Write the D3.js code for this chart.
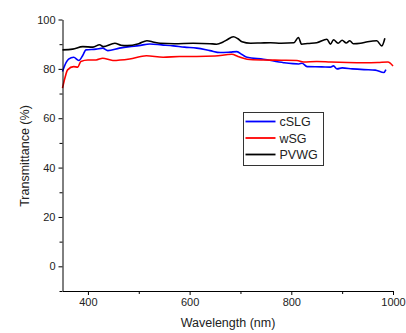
<!DOCTYPE html>
<html lang="en">
<head>
    <meta charset="UTF-8">
    <title>Transmittance</title>
    <script src="https://d3js.org/d3.v7.min.js"></script>
    <style>
        body { margin: 0; background: #fff; }
        text { font-family: "Liberation Sans", Arial, sans-serif; fill: #222; }
    </style>
</head>
<body>

    <svg width="406" height="333"></svg>

</body>

<script>

    // PVWG (black)
    var wlPVWG = [350,370,390,410,423,430,453,465,477,500,516,530,542,570,607,640,653,665,673,686,695,703,720,740,759,780,805,814,820,832,850,870,877,883,892,900,908,915,922,936,950,968,978,984];
    var tPVWG  = [87.7,88.0,89.0,88.8,89.8,89.0,90.4,89.6,89.4,90.2,91.4,90.8,90.4,90.2,90.4,90.2,90.0,90.8,91.7,93.0,92.2,91.0,90.4,90.5,90.6,90.4,90.6,92.7,90.0,90.3,90.6,92.0,90.0,91.8,90.4,91.6,90.5,91.4,90.2,90.4,91.0,91.4,89.3,92.4];

    // cSLG (blue)
    var wlCSLG = [350,357,362,372,382,390,396,416,429,439,462,482,500,522,545,568,590,614,640,660,680,693,703,713,745,785,815,821,831,860,877,883,890,900,920,943,965,982,986];
    var tCSLG  = [78.9,82.5,83.9,84.7,83.4,85.5,87.7,88.0,88.4,87.4,88.4,89.0,89.4,90.1,89.7,89.3,88.8,88.4,87.4,86.6,86.8,87.0,85.8,84.7,83.9,82.5,82.0,82.3,80.9,80.8,80.7,81.2,80.0,80.4,80.0,79.7,79.5,78.5,79.7];

    // wSG (red)
    var wlWSG = [350,355,360,372,380,386,400,416,429,449,482,515,548,580,614,650,683,695,713,745,780,811,824,850,877,910,943,970,990,1000];
    var tWSG  = [72.2,76.5,79.6,80.9,80.7,83.0,83.6,83.6,84.3,83.4,84.0,85.3,84.7,85.0,85.0,85.2,85.9,85.0,83.9,83.6,83.5,83.4,82.8,83.0,82.8,82.6,82.5,82.6,82.8,81.2];

    var seriesNames = ['cSLG','wSG','PVWG'];
    var seriesColors = ['#0000ff','#ff0000','#000000'];
    var xTicks = [400,600,800,1000];
    var yTicks = [0,20,40,60,80,100];

    var svg = d3.select('svg');

    //比例尺
    var x = d3.scaleLinear().domain([350,1000]).range([62.5,393]);
    var y = d3.scaleLinear().domain([-10,100]).range([291,19.5]);

    //曲线
    var line = d3.line()
        .x(function (d) { return x(d[0]); })
        .y(function (d) { return y(d[1]); })
        .curve(d3.curveMonotoneX);

    var series = [
        d3.zip(wlCSLG, tCSLG),
        d3.zip(wlWSG, tWSG),
        d3.zip(wlPVWG, tPVWG)
    ];

    svg.append('g').selectAll('path').data(series).enter().append('path')
        .attr('d', line)
        .attr('fill','none')
        .attr('stroke', function (d,i) { return seriesColors[i]; })
        .attr('stroke-width', 1.6);

    //坐标轴
    svg.append('g').attr('transform','translate(0,291)')
        .call(d3.axisBottom(x).tickValues(xTicks).tickFormat(d3.format('d'))
            .tickSize(4).tickSizeOuter(0).tickPadding(3));
    svg.append('g').attr('transform','translate(0,291)')
        .call(d3.axisBottom(x).tickValues([500,700,900]).tickSize(3).tickSizeOuter(0).tickFormat(''))
        .select('.domain').remove();

    svg.append('g').attr('transform','translate(62.5,0)')
        .call(d3.axisLeft(y).tickValues(yTicks).tickSize(4).tickSizeOuter(0).tickPadding(3));
    svg.append('g').attr('transform','translate(62.5,0)')
        .call(d3.axisLeft(y).tickValues([-10,10,30,50,70,90]).tickSize(3).tickSizeOuter(0).tickFormat(''))
        .select('.domain').remove();

    svg.selectAll('.tick text').style('font-size','11px').style('font-family','"Liberation Sans", Arial, sans-serif').attr('fill','#222');
    svg.selectAll('.domain, .tick line').attr('stroke','#000').attr('stroke-width',1);

    //坐标轴标题
    svg.append('text').attr('x',228).attr('y',327).attr('text-anchor','middle')
        .style('font-size','12.5px').text('Wavelength (nm)');
    svg.append('text').attr('transform','translate(29,156) rotate(-90)').attr('text-anchor','middle')
        .style('font-size','12.5px').text('Transmittance (%)');

    //图例
    var lg = svg.append('g').attr('transform','translate(243.5,112.5)');
    lg.append('rect').attr('width',80).attr('height',53)
        .attr('fill','#fff').attr('stroke','#333').attr('stroke-width',1);
    var items = lg.selectAll('g.item').data(seriesNames).enter().append('g')
        .attr('transform', function (d,i) { return 'translate(0,' + (9 + i*16.5) + ')'; });
    items.append('line').attr('x1',2).attr('x2',32).attr('y1',0).attr('y2',0)
        .attr('stroke', function (d,i) { return seriesColors[i]; })
        .attr('stroke-width',1.8);
    items.append('text').attr('x',36).attr('y',4.5)
        .style('font-size','12.5px').text(function (d) { return d; });

</script>

</html>
